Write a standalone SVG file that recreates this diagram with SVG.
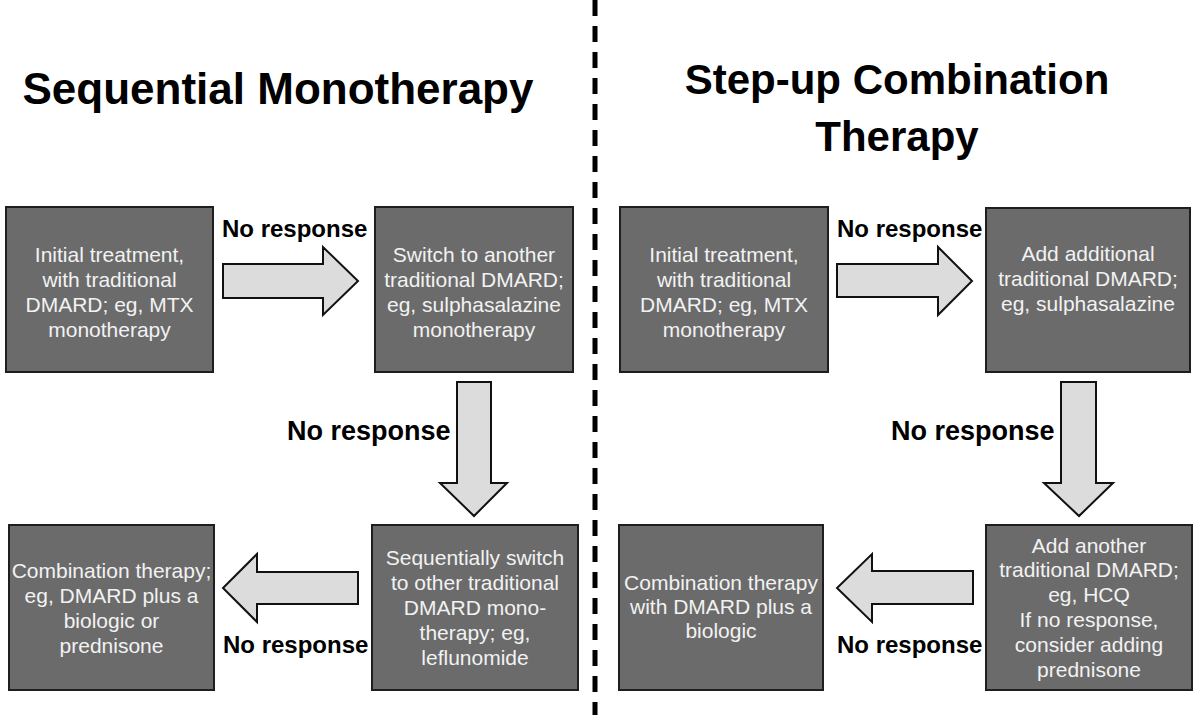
<svg xmlns="http://www.w3.org/2000/svg" width="1200" height="715" viewBox="0 0 1200 715">
<style>
.box{fill:#6b6b6b;stroke:#1e1e1e;stroke-width:2}
.bt{font-family:"Liberation Sans",Arial,sans-serif;font-size:21px;fill:#f2f2f2;text-anchor:middle}
.arr{fill:#dcdcdc;stroke:#111;stroke-width:2;stroke-linejoin:miter}
.lbl{font-family:"Liberation Sans",Arial,sans-serif;font-weight:bold;font-size:24px;fill:#000}
.lbl2{font-family:"Liberation Sans",Arial,sans-serif;font-weight:bold;font-size:27px;fill:#000}
.title{font-family:"Liberation Sans",Arial,sans-serif;font-weight:bold;fill:#000;text-anchor:middle}
</style>
<rect width="1200" height="715" fill="#fff"/>
<line x1="595" y1="0" x2="595" y2="715" stroke="#000" stroke-width="5" stroke-dasharray="16 10"/>
<text class="title" x="278" y="104" font-size="44">Sequential Monotherapy</text>
<text class="title" x="897" y="94" font-size="42">Step-up Combination</text>
<text class="title" x="897" y="151" font-size="42">Therapy</text>

<g id="connectors">
<polygon class="arr" points="223,264 323,264 323,247 358,281 323,315 323,298 223,298"/>
<polygon class="arr" points="457,382 491,382 491,483 507,483 474,516 440,483 457,483"/>
<polygon class="arr" points="358,572 257,572 257,554 223,588 257,622 257,604 358,604"/>
<polygon class="arr" points="837,264 938,264 938,247 972,281 938,315 938,297 837,297"/>
<polygon class="arr" points="1061,382 1096,382 1096,483 1113,483 1079,516 1044,483 1061,483"/>
<polygon class="arr" points="973,571 872,571 872,554 837,588 872,622 872,604 973,604"/>
<text class="lbl" x="222" y="237">No response</text>
<text class="lbl2" x="287" y="440">No response</text>
<text class="lbl" x="223" y="653">No response</text>
<text class="lbl" x="837" y="237">No response</text>
<text class="lbl2" x="891" y="440">No response</text>
<text class="lbl" x="837" y="653">No response</text>
</g>

<g id="nodeA">
<rect class="box" x="6" y="207" width="207" height="165"/>
<text class="bt"><tspan x="109.5" y="262">Initial treatment,</tspan><tspan x="109.5" y="287">with traditional</tspan><tspan x="109.5" y="312">DMARD; eg, MTX</tspan><tspan x="109.5" y="337">monotherapy</tspan></text>
</g>
<g id="nodeB">
<rect class="box" x="375" y="207" width="198" height="165"/>
<text class="bt"><tspan x="474" y="262">Switch to another</tspan><tspan x="474" y="287">traditional DMARD;</tspan><tspan x="474" y="312">eg, sulphasalazine</tspan><tspan x="474" y="337">monotherapy</tspan></text>
</g>
<g id="nodeC">
<rect class="box" x="9" y="525" width="205" height="165"/>
<text class="bt"><tspan x="111.5" y="578">Combination therapy;</tspan><tspan x="111.5" y="603">eg, DMARD plus a</tspan><tspan x="111.5" y="628">biologic or</tspan><tspan x="111.5" y="653">prednisone</tspan></text>
</g>
<g id="nodeD">
<rect class="box" x="372" y="525" width="206" height="165"/>
<text class="bt"><tspan x="475" y="565">Sequentially switch</tspan><tspan x="475" y="590">to other traditional</tspan><tspan x="475" y="615">DMARD mono-</tspan><tspan x="475" y="640">therapy; eg,</tspan><tspan x="475" y="665">leflunomide</tspan></text>
</g>
<g id="nodeE">
<rect class="box" x="620" y="207" width="208" height="165"/>
<text class="bt"><tspan x="724" y="262">Initial treatment,</tspan><tspan x="724" y="287">with traditional</tspan><tspan x="724" y="312">DMARD; eg, MTX</tspan><tspan x="724" y="337">monotherapy</tspan></text>
</g>
<g id="nodeF">
<rect class="box" x="986" y="208" width="204" height="164"/>
<text class="bt"><tspan x="1088" y="261">Add additional</tspan><tspan x="1088" y="286">traditional DMARD;</tspan><tspan x="1088" y="311">eg, sulphasalazine</tspan></text>
</g>
<g id="nodeG">
<rect class="box" x="619" y="525" width="204" height="165"/>
<text class="bt"><tspan x="721" y="590">Combination therapy</tspan><tspan x="721" y="614">with DMARD plus a</tspan><tspan x="721" y="638">biologic</tspan></text>
</g>
<g id="nodeH">
<rect class="box" x="986" y="525" width="206" height="165"/>
<text class="bt"><tspan x="1089" y="553">Add another</tspan><tspan x="1089" y="577">traditional DMARD;</tspan><tspan x="1089" y="602">eg, HCQ</tspan><tspan x="1089" y="627">If no response,</tspan><tspan x="1089" y="652">consider adding</tspan><tspan x="1089" y="677">prednisone</tspan></text>
</g>
</svg>
